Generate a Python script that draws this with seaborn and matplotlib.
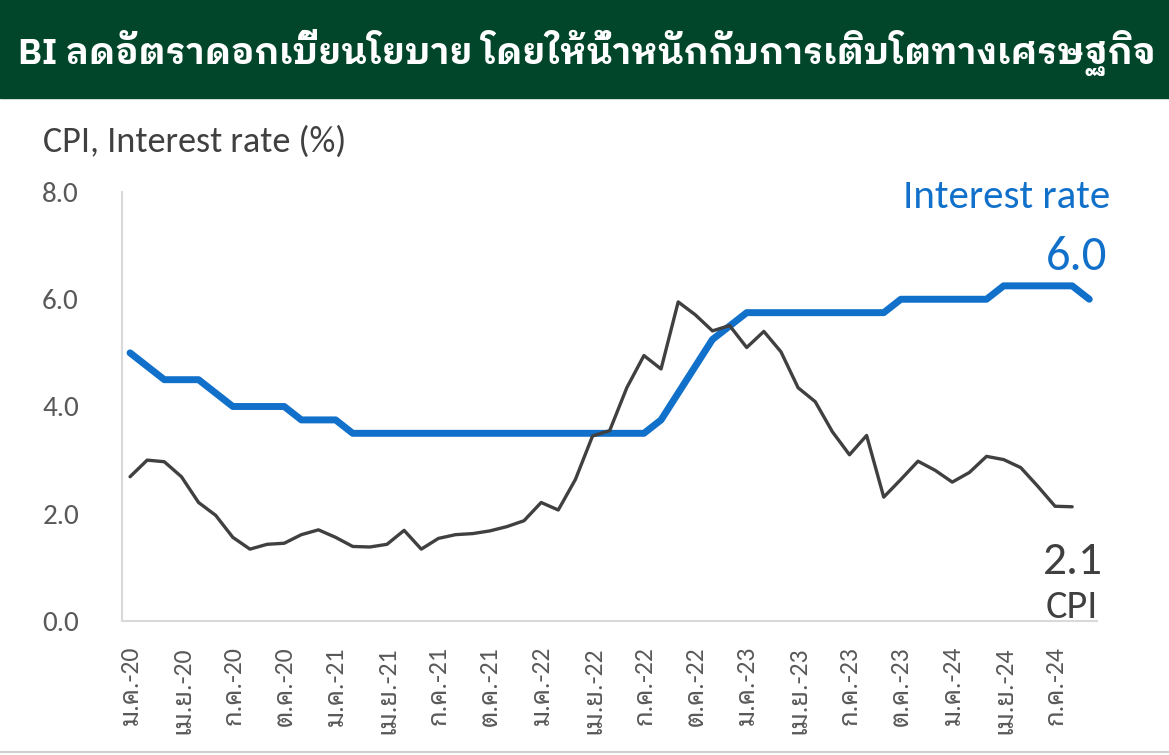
import numpy as np
import pandas as pd
import matplotlib.pyplot as plt
import seaborn as sns
from matplotlib import font_manager
from matplotlib.patches import Rectangle
from matplotlib.lines import Line2D

# ข้อมูล: CPI (ม.ค.-20 ถึง ส.ค.-24), อัตราดอกเบี้ยนโยบาย BI (ม.ค.-20 ถึง ก.ย.-24)
cpi_2020 = [2.69, 3.00, 2.97, 2.69, 2.21, 1.97, 1.56, 1.34, 1.43, 1.45, 1.61, 1.70]
cpi_2021 = [1.56, 1.39, 1.38, 1.43, 1.69, 1.34, 1.54, 1.61, 1.63, 1.68, 1.76, 1.87]
cpi_2022 = [2.21, 2.07, 2.64, 3.45, 3.55, 4.35, 4.95, 4.70, 5.95, 5.71, 5.41, 5.51]
cpi_2023 = [5.10, 5.40, 5.02, 4.35, 4.09, 3.53, 3.10, 3.46, 2.31, 2.64, 2.98, 2.81]
cpi_2024 = [2.59, 2.77, 3.07, 3.01, 2.86, 2.51, 2.14, 2.13]

rate_2020 = [5.00, 4.75, 4.50, 4.50, 4.50, 4.25, 4.00, 4.00, 4.00, 4.00, 3.75, 3.75]
rate_2021 = [3.75, 3.50, 3.50, 3.50, 3.50, 3.50, 3.50, 3.50, 3.50, 3.50, 3.50, 3.50]
rate_2022 = [3.50, 3.50, 3.50, 3.50, 3.50, 3.50, 3.50, 3.75, 4.25, 4.75, 5.25, 5.50]
rate_2023 = [5.75, 5.75, 5.75, 5.75, 5.75, 5.75, 5.75, 5.75, 5.75, 6.00, 6.00, 6.00]
rate_2024 = [6.00, 6.00, 6.00, 6.25, 6.25, 6.25, 6.25, 6.25, 6.00]

tick_labels = ['ม.ค.-20', 'เม.ย.-20', 'ก.ค.-20', 'ต.ค.-20',
               'ม.ค.-21', 'เม.ย.-21', 'ก.ค.-21', 'ต.ค.-21',
               'ม.ค.-22', 'เม.ย.-22', 'ก.ค.-22', 'ต.ค.-22',
               'ม.ค.-23', 'เม.ย.-23', 'ก.ค.-23', 'ต.ค.-23',
               'ม.ค.-24', 'เม.ย.-24', 'ก.ค.-24']

title = 'BI ลดอัตราดอกเบี้ยนโยบาย โดยให้น้ำหนักกับการเติบโตทางเศรษฐกิจ'

cpi = cpi_2020 + cpi_2021 + cpi_2022 + cpi_2023 + cpi_2024
rate = rate_2020 + rate_2021 + rate_2022 + rate_2023 + rate_2024
df_cpi = pd.DataFrame({'m': np.arange(len(cpi)), 'v': cpi})
df_rate = pd.DataFrame({'m': np.arange(len(rate)), 'v': rate})

sns.set_style('white')
# ฟอนต์: ละติน + ไทย
have = {f.name for f in font_manager.fontManager.ttflist}
latin = [n for n in ['Carlito', 'Lato'] if n in have][:1]
plt.rcParams['font.family'] = latin + ['Noto Sans Thai Looped', 'DejaVu Sans']
# หัวเรื่องตัวหนา: เลือกฟอนต์ไทยแบบมีหัวที่มีน้ำหนัก bold
bold_thai = [f.name for f in font_manager.fontManager.ttflist
             if f.name in ('Noto Sans Thai Looped', 'IBM Plex Sans Thai Looped', 'Noto Sans Thai')
             and f.weight in (700, 'bold')]
title_font = sorted(set(bold_thai), key=lambda n: ['Noto Sans Thai Looped', 'IBM Plex Sans Thai Looped',
                                                   'Noto Sans Thai'].index(n))[:1] or ['Noto Sans Thai Looped']

W, H = 1169, 755
fig = plt.figure(figsize=(W / 100, H / 100), dpi=100)
fig.patch.set_facecolor('white')

# แถบหัวเรื่องสีเขียว
fig.patches.append(Rectangle((0, 1 - 98 / H), 1, 98 / H, transform=fig.transFigure,
                             color='#01452A', zorder=0))
fig.text(18 / W, 1 - 53 / H, title, color='white', fontsize=25.8, fontweight='bold',
         va='center', ha='left', family=title_font + latin)
fig.add_artist(Line2D([0, 1], [1 - 752 / H] * 2, color='#D0D0D0', lw=1.5,
                      transform=fig.transFigure))

ax = fig.add_axes([122 / W, 1 - 621 / H, (1097 - 122) / W, (621 - 192) / H])
sns.lineplot(data=df_rate, x='m', y='v', ax=ax, color='#1170CA', lw=5,
             solid_capstyle='round', zorder=3)
sns.lineplot(data=df_cpi, x='m', y='v', ax=ax, color='#404040', lw=2.4,
             solid_capstyle='round', zorder=4)

ax.set_xlim(-0.47, 56.45)
ax.set_ylim(0, 8)
ax.set_yticks([0, 2, 4, 6, 8])
ax.set_yticklabels([f'{v:.1f}' for v in [0, 2, 4, 6, 8]])
ax.set_xticks(np.arange(0, len(tick_labels) * 3, 3))
ax.set_xticklabels(tick_labels, rotation=90, va='top', ha='center')
ax.set_xlabel('')
ax.set_ylabel('')
ax.tick_params(axis='y', length=0, pad=31, labelsize=21, labelcolor='#595959')
ax.tick_params(axis='x', length=0, pad=18, labelsize=18.5, labelcolor='#595959')
for s in ['top', 'right']:
    ax.spines[s].set_visible(False)
for s in ['left', 'bottom']:
    ax.spines[s].set_color('#D9D9D9')
    ax.spines[s].set_linewidth(1.5)

fig.text(43 / W, 1 - 142 / H, 'CPI, Interest rate (%)', fontsize=26, color='#404040',
         va='center', ha='left')

# ป้ายกำกับท้ายเส้น
fig.text(1110 / W, 1 - 197 / H, 'Interest rate', fontsize=29.5, color='#1170CA',
         va='center', ha='right')
fig.text(1107 / W, 1 - 257 / H, f'{rate[-1]:.1f}', fontsize=35, color='#1170CA',
         va='center', ha='right')
fig.text(1103 / W, 1 - 561 / H, f'{cpi[-1]:.1f}', fontsize=34, color='#404040',
         va='center', ha='right')
fig.text(1098 / W, 1 - 607 / H, 'CPI', fontsize=29, color='#404040',
         va='center', ha='right')

fig.savefig('out.png', dpi=100)
